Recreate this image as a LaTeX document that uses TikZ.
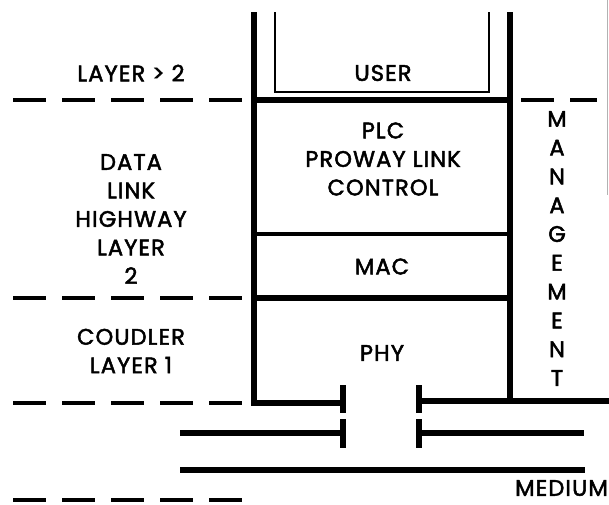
\documentclass[tikz,border=0pt]{standalone}
\usepackage{fontspec}
\setmainfont{Poppins}
\newfontfamily\lblfont{Poppins}[FakeBold=2.2, LetterSpace=5]
\usepackage{tikz}
\usetikzlibrary{positioning}

\tikzset{
  wall/.style={line width=5.5pt},
  thinwall/.style={line width=2pt},
  midwall/.style={line width=4pt},
  layerdash/.style={line width=4pt, dash pattern=on 33pt off 16pt},
  lbl/.style={align=center, inner sep=0pt, font=\lblfont\fontsize{22.5}{28.5}\selectfont},
}

\begin{document}
\begin{tikzpicture}[x=1pt,y=-1pt]
  \useasboundingbox (0,0) rectangle (609,504);

  % protocol stack
  \draw[wall] (254,12) -- (254,403) -- (343,403);
  \draw[wall] (510,12) -- (510,401);
  \draw[thinwall] (275,12) -- (275,92) -- (489,92) -- (489,12);
  \draw[wall] (254,100) -- (510,100);
  \draw[midwall] (254,234) -- (510,234);
  \draw[wall] (254,298) -- (510,298);

  % coupler and medium
  \draw[wall] (419,401) -- (609,401);
  \draw[wall] (343,385) -- (343,413);
  \draw[wall] (343,419) -- (343,448);
  \draw[wall] (419,385) -- (419,413);
  \draw[wall] (419,419) -- (419,448);
  \draw[wall] (180,433) -- (343,433);
  \draw[wall] (419,433) -- (584,433);
  \draw[wall] (180,470) -- (585,470);

  % layer borders
  \foreach \y in {100,298,403,500}
    \draw[layerdash] (13,\y) -- (245,\y);
  \draw[layerdash] (521,100) -- (597,100);
  \draw[gray!60, line width=1pt] (607,0) -- (607,195);

  % labels
  \node[lbl] (user) at (383,73) {USER};
  \node[lbl] (plc) at (383,159) {PLC\\PROWAY LINK\\CONTROL};
  \node[lbl] (mac) at (382,266.5) {MAC};
  \node[lbl] (phy) at (382,353) {PHY};
  \node[lbl] (upper) at (131,73) {LAYER > 2};
  \node[lbl] (datalink) at (131,219) {DATA\\LINK\\HIGHWAY\\LAYER\\2};
  \node[lbl] (coupler) at (131,351) {COUDLER\\LAYER 1};
  \node[lbl, font=\lblfont\fontsize{22.5}{28.8}\selectfont] (mgmt) at (557,248.5) {M\\A\\N\\A\\G\\E\\M\\E\\N\\T};
  \node[lbl, anchor=east] (medium) at (608,488) {MEDIUM};
\end{tikzpicture}
\end{document}
